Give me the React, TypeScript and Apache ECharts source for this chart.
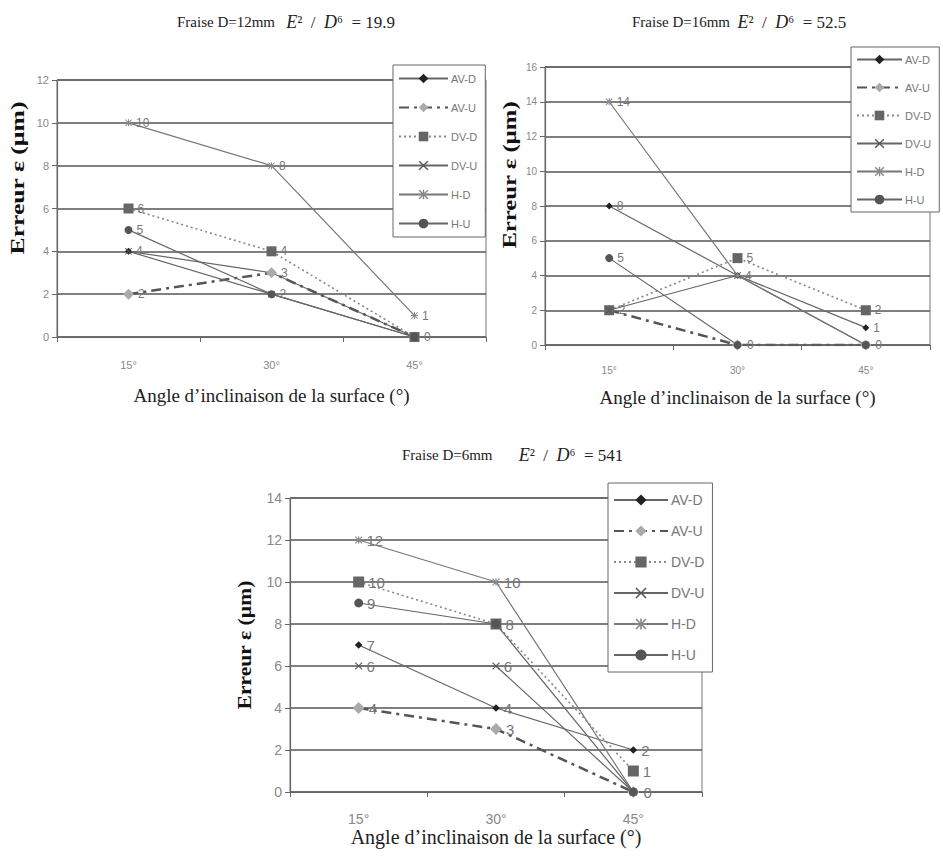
import React, { useEffect, useRef } from "react";
import * as echarts from "echarts";

const categories = ["15°", "30°", "45°"];
const seriesNames = ["AV-D", "AV-U", "DV-D", "DV-U", "H-D", "H-U"];

// Fraise D=12mm
const d12AVD = [4, 3, 0];
const d12AVU = [2, 3, 0];
const d12DVD = [6, 4, 0];
const d12DVU = [4, 2, 0];
const d12HD = [10, 8, 1];
const d12HU = [5, 2, 0];

// Fraise D=16mm
const d16AVD = [8, 4, 1];
const d16AVU = [2, 0, 0];
const d16DVD = [2, 5, 2];
const d16DVU = [2, 4, 0];
const d16HD = [14, 4, 0];
const d16HU = [5, 0, 0];

// Fraise D=6mm
const d6AVD = [7, 4, 2];
const d6AVU = [4, 3, 0];
const d6DVD = [10, 8, 1];
const d6DVU = [6, 6, 0];
const d6HD = [12, 10, 0];
const d6HU = [9, 8, 0];

const yMax = [12, 16, 14];
const titles = [
  "Fraise D=12mm   {i|E}{n|²  /  }{i|D}{n|⁶  = 19.9}",
  "Fraise D=16mm  {i|E}{n|²  /  }{i|D}{n|⁶  = 52.5}",
  "Fraise D=6mm       {i|E}{n|²  /  }{i|D}{n|⁶  = 541}",
];
const xTitle = "Angle d\u2019inclinaison de la surface (°)";
const yTitle = "Erreur ε (µm)";

const SANS = '"Liberation Sans", Arial, sans-serif';
const SERIF = '"Liberation Serif", "Times New Roman", serif';

const X_PATH =
  "path://M0,1L1,0L5,4L9,0L10,1L6,5L10,9L9,10L5,6L1,10L0,9L4,5Z";
const STAR_PATH =
  "path://M0,1L1,0L5,4L9,0L10,1L6,5L10,9L9,10L5,6L1,10L0,9L4,5Z M4.3,0H5.7V10H4.3Z M0,4.3H10V5.7H0Z";

const styles: Record<string, any> = {
  "AV-D": {
    symbol: "diamond",
    symbolSize: 7,
    itemStyle: { color: "#222" },
    lineStyle: { color: "#666", width: 1.2, type: "solid" },
  },
  "AV-U": {
    symbol: "diamond",
    symbolSize: 11,
    itemStyle: { color: "#aaa" },
    lineStyle: { color: "#555", width: 2.5, type: [10, 5, 3, 5] },
  },
  "DV-D": {
    symbol: "rect",
    symbolSize: 10,
    itemStyle: { color: "#666" },
    lineStyle: { color: "#888", width: 1.6, type: [2, 3] },
  },
  "DV-U": {
    symbol: X_PATH,
    symbolSize: 7,
    itemStyle: { color: "#555" },
    lineStyle: { color: "#666", width: 1.2, type: "solid" },
  },
  "H-D": {
    symbol: STAR_PATH,
    symbolSize: 7,
    itemStyle: { color: "#888" },
    lineStyle: { color: "#777", width: 1.2, type: "solid" },
  },
  "H-U": {
    symbol: "circle",
    symbolSize: 8,
    itemStyle: { color: "#555" },
    lineStyle: { color: "#666", width: 1.2, type: "solid" },
  },
};

const chartData = [
  [d12AVD, d12AVU, d12DVD, d12DVU, d12HD, d12HU],
  [d16AVD, d16AVU, d16DVD, d16DVU, d16HD, d16HU],
  [d6AVD, d6AVU, d6DVD, d6DVU, d6HD, d6HU],
];

const grids = [
  { left: 57, top: 80, width: 429, height: 257 },
  { left: 545, top: 67, width: 385, height: 278 },
  { left: 290, top: 498, width: 412, height: 294 },
];

const layout = [
  { tick: 11, label: 12, xMargin: 22, nameGap: 49, xName: 19, legend: { left: 393, top: 65, pad: 8, itemW: 49, itemH: 12, gap: 18, font: 11 } },
  { tick: 10, label: 12, xMargin: 20, nameGap: 43, xName: 19, legend: { left: 851, top: 47, pad: 7, itemW: 45, itemH: 12, gap: 17, font: 11 } },
  { tick: 14, label: 15, xMargin: 20, nameGap: 34, xName: 20, legend: { left: 608, top: 483, pad: 10, itemW: 54, itemH: 14, gap: 17, font: 14 } },
];

export default function App() {
  const ref = useRef<HTMLDivElement>(null);
  useEffect(() => {
    if (!ref.current) return;
    const chart = echarts.init(ref.current, null, { renderer: "svg" });

    const series: any[] = [];
    chartData.forEach((arrs, ci) => {
      arrs.forEach((vals, si) => {
        const name = seriesNames[si];
        const st = styles[name];
        series.push({
          type: "line",
          name,
          xAxisIndex: ci,
          yAxisIndex: ci,
          data: vals,
          symbol: st.symbol,
          symbolSize: ci === 2 ? st.symbolSize * 1.1 : st.symbolSize,
          itemStyle: st.itemStyle,
          lineStyle: st.lineStyle,
          z: 3,
          label: {
            show: true,
            position: "right",
            distance: 4,
            color: "#777",
            fontFamily: SANS,
            fontSize: layout[ci].label,
          },
          labelLayout: { hideOverlap: true },
          emphasis: { disabled: true },
        });
      });
    });

    const option: any = {
      animation: false,
      backgroundColor: "#fff",
      title: titles.map((t, i) => ({
        text: t,
        left: [172, 627, 397][i],
        top: [8, 8, 441][i],
        textStyle: {
          fontFamily: SERIF,
          fontWeight: "normal",
          fontSize: 15,
          color: "#222",
          rich: {
            i: { fontFamily: SERIF, fontStyle: "italic", fontSize: 18, color: "#222" },
            n: { fontFamily: SERIF, fontSize: 17, color: "#222" },
          },
        },
      })),
      grid: grids.map((g) => ({
        ...g,
        show: true,
        borderColor: "#777",
        borderWidth: 1,
        backgroundColor: "transparent",
      })),
      xAxis: grids.map((_, i) => ({
        type: "category",
        gridIndex: i,
        data: categories,
        boundaryGap: true,
        name: xTitle,
        nameLocation: "middle",
        nameGap: layout[i].nameGap,
        nameTextStyle: { fontFamily: SERIF, fontSize: layout[i].xName, color: "#222" },
        axisLine: { lineStyle: { color: "#666", width: 1.2 } },
        axisTick: { show: true, length: 5, lineStyle: { color: "#666" } },
        axisLabel: {
          color: "#888",
          fontFamily: SANS,
          fontSize: layout[i].tick,
          margin: layout[i].xMargin,
        },
      })),
      yAxis: grids.map((_, i) => ({
        type: "value",
        gridIndex: i,
        min: 0,
        max: yMax[i],
        interval: 2,
        axisLine: { show: true, lineStyle: { color: "#666", width: 1.2 } },
        axisTick: { show: true, length: 5, lineStyle: { color: "#666" } },
        axisLabel: {
          color: "#888",
          fontFamily: SANS,
          fontSize: layout[i].tick,
          margin: 8,
        },
        splitLine: { show: true, lineStyle: { color: "#555", width: 1.5 } },
      })),
      legend: layout.map((l) => ({
        orient: "vertical",
        left: l.legend.left,
        top: l.legend.top,
        data: seriesNames,
        selectedMode: false,
        padding: [l.legend.pad, 8, l.legend.pad, 5],
        itemWidth: l.legend.itemW,
        itemHeight: l.legend.itemH,
        itemGap: l.legend.gap,
        backgroundColor: "#fff",
        borderColor: "#666",
        borderWidth: 1,
        borderRadius: 0,
        textStyle: { color: "#777", fontFamily: SANS, fontSize: l.legend.font, padding: [0, 0, 0, -2] },
      })),
      graphic: [
        { x: 18, y: 178, size: 19, sx: 1.35 },
        { x: 510, y: 175, size: 19, sx: 1.3 },
        { x: 245, y: 645, size: 18, sx: 1.2 },
      ].map((p) => ({
        type: "text",
        x: p.x,
        y: p.y,
        rotation: Math.PI / 2,
        scaleX: p.sx,
        style: {
          text: yTitle,
          font: `bold ${p.size}px ${SERIF}`,
          fill: "#111",
          align: "center",
          verticalAlign: "middle",
        },
      })),
      series,
    };

    chart.setOption(option);
    return () => chart.dispose();
  }, []);

  return (
    <div
      ref={ref}
      style={{ position: "fixed", left: 0, top: 0, width: 943, height: 856 }}
    />
  );
}
